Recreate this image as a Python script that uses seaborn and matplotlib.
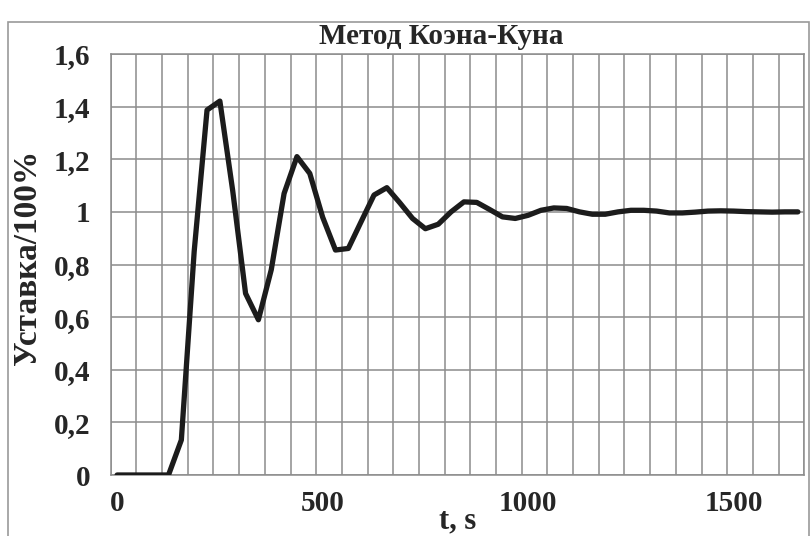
import matplotlib
matplotlib.use("Agg")
import matplotlib.pyplot as plt
import seaborn as sns
import pandas as pd
from matplotlib.patches import Rectangle

# ---- data ----
time_s = [0, 31.25, 62.5, 93.75, 125, 156.25, 187.5, 218.75, 250, 281.25,
          312.5, 343.75, 375, 406.25, 437.5, 468.75, 500, 531.25, 562.5,
          593.75, 625, 656.25, 687.5, 718.75, 750, 781.25, 812.5, 843.75,
          875, 906.25, 937.5, 968.75, 1000, 1031.25, 1062.5, 1093.75, 1125,
          1156.25, 1187.5, 1218.75, 1250, 1281.25, 1312.5, 1343.75, 1375,
          1406.25, 1437.5, 1468.75, 1500, 1531.25, 1562.5, 1593.75, 1625,
          1656.25]
setpoint_ratio = [0, 0, 0, 0, 0, 0.133, 0.85, 1.387, 1.421, 1.08, 0.69, 0.59,
                  0.78, 1.07, 1.21, 1.146, 0.98, 0.855, 0.861, 0.963, 1.064,
                  1.092, 1.035, 0.975, 0.936, 0.953, 1.0, 1.038, 1.036, 1.009,
                  0.981, 0.975, 0.987, 1.006, 1.015, 1.013, 1.0, 0.991, 0.991,
                  1.0, 1.006, 1.006, 1.003, 0.996, 0.996, 0.999, 1.003, 1.004,
                  1.003, 1.001, 1.0, 0.999, 1.0, 1.0]
x_ticks = [0, 500, 1000, 1500]
x_tick_labels = ["0", "500", "1000", "1500"]
y_ticks = [0, 0.2, 0.4, 0.6, 0.8, 1.0, 1.2, 1.4, 1.6]
y_tick_labels = ["0", "0,2", "0,4", "0,6", "0,8", "1", "1,2", "1,4", "1,6"]
title = "Метод Коэна-Куна"
x_label = "t, s"
y_label = "Уставка/100%"

df = pd.DataFrame({"t": time_s, "v": setpoint_ratio})

sns.set_style("white")
plt.rcParams["font.family"] = ["Liberation Serif", "DejaVu Serif"]
plt.rcParams["font.weight"] = "bold"

W, H = 810, 536
fig = plt.figure(figsize=(W / 100, H / 100), dpi=100)
L, R, T, B = 110.7, 804.3, 54, 475
ax = fig.add_axes([L / W, 1 - B / H, (R - L) / W, (B - T) / H])

grid_c = "#8c8c8c"
sns.lineplot(data=df, x="t", y="v", ax=ax, color="#1c1c1c", linewidth=3.8,
             solid_joinstyle="round", solid_capstyle="round", zorder=5)

step = 31.25
ax.set_xlim(-step / 2, 1656.25 + step / 2)
ax.set_ylim(0, 1.6)
ax.set_xticks(x_ticks)
ax.set_xticklabels(x_tick_labels, fontsize=21, fontweight="bold")
ax.set_xticks([-step / 2 + 2 * step * k for k in range(28)], minor=True)
ax.set_yticks(y_ticks)
ax.set_yticklabels(y_tick_labels, fontsize=21, fontweight="bold")
ax.tick_params(axis="x", which="both", length=0, pad=11)
ax.tick_params(axis="y", which="major", length=6.5, width=1.1, color=grid_c,
               pad=8, direction="out")
ax.grid(False)
ax.grid(axis="x", which="minor", color=grid_c, linewidth=1.1)
ax.grid(axis="y", which="major", color=grid_c, linewidth=1.1)
for s in ax.spines.values():
    s.set_color(grid_c)
    s.set_linewidth(1.1)

ax.set_xlabel(x_label, fontsize=22, fontweight="bold")
ax.xaxis.set_label_coords(0.5, (B - 521) / (B - T))
ax.xaxis.label.set_va("center")
ax.set_ylabel(y_label, fontsize=24, fontweight="bold")
ax.yaxis.set_label_coords((28 - L) / (R - L), (B - 257) / (B - T))
ax.yaxis.label.set_va("center")

fig.text(441.5 / W, 1 - 37 / H, title, fontsize=21, fontweight="bold",
         ha="center", va="center")

fig.patches.append(Rectangle((7.5 / W, -0.05), (809 - 7.5) / W, 1.05 - 22 / H,
                             transform=fig.transFigure, fill=False,
                             edgecolor="#9a9a9a", linewidth=1.2))

fig.savefig("out.png", dpi=100)
